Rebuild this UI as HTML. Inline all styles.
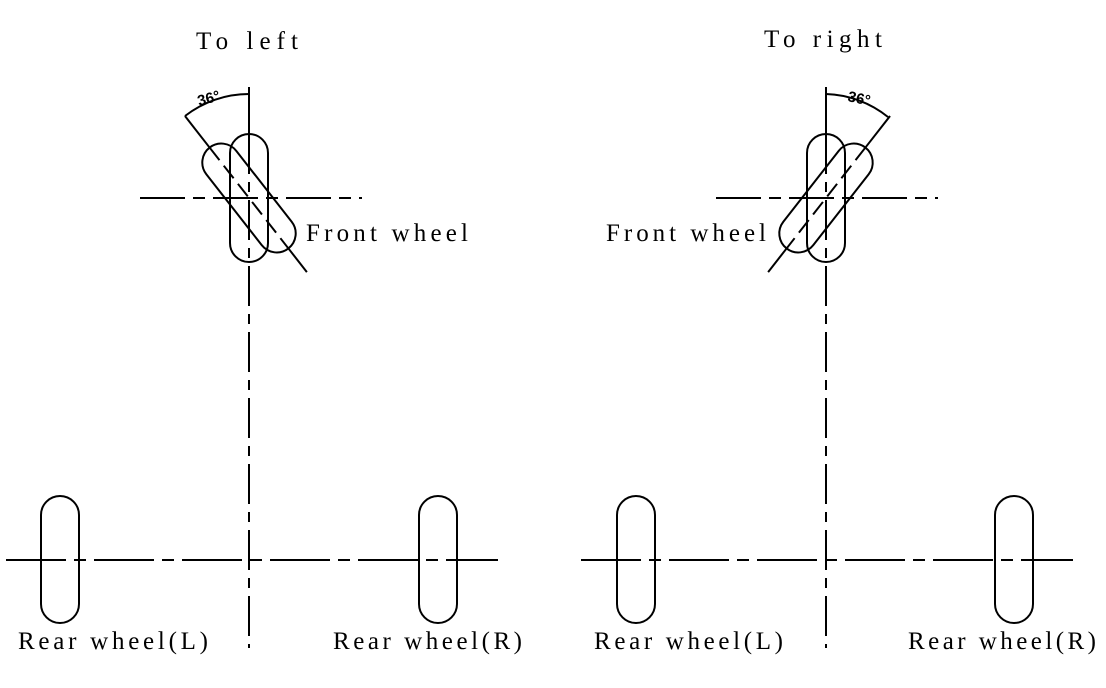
<!DOCTYPE html>
<html><head><style>
html,body{margin:0;padding:0;background:#fff;}
svg{display:block;}
text{font-family:"Liberation Serif","Noto Serif CJK SC",serif;font-size:25px;fill:#000;}
</style></head><body>
<svg width="1106" height="688" viewBox="0 0 1106 688" xmlns="http://www.w3.org/2000/svg">
<g fill="none" stroke="#000" stroke-width="2">
<!-- LEFT DIAGRAM -->
<line x1="249" y1="87" x2="249" y2="134"/>
<line x1="249" y1="134" x2="249" y2="648" stroke-dasharray="40,8,10,8"/>
<line x1="140" y1="198" x2="362" y2="198" stroke-dasharray="45,8,12,8"/>
<line x1="6" y1="560" x2="498" y2="560" stroke-dasharray="60,8,12,8"/>
<rect x="230" y="134" width="38" height="128" rx="19"/>
<g transform="rotate(-38 249 198)">
<rect x="230" y="134" width="38" height="128" rx="19"/>
<line x1="249" y1="94" x2="249" y2="134"/>
<line x1="249" y1="134" x2="249" y2="262" stroke-dasharray="16,7"/>
<line x1="249" y1="262" x2="249" y2="292"/>
</g>
<path d="M249 94 A104 104 0 0 0 185 116"/>
<rect x="41" y="496" width="38" height="127" rx="19"/>
<rect x="419" y="496" width="38" height="127" rx="19"/>
<!-- RIGHT DIAGRAM -->
<line x1="826" y1="87" x2="826" y2="134"/>
<line x1="826" y1="134" x2="826" y2="648" stroke-dasharray="40,8,10,8"/>
<line x1="716" y1="198" x2="938" y2="198" stroke-dasharray="45,8,12,8"/>
<line x1="581" y1="560" x2="1073" y2="560" stroke-dasharray="60,8,12,8"/>
<rect x="807" y="134" width="38" height="128" rx="19"/>
<g transform="rotate(38 826 198)">
<rect x="807" y="134" width="38" height="128" rx="19"/>
<line x1="826" y1="94" x2="826" y2="134"/>
<line x1="826" y1="134" x2="826" y2="262" stroke-dasharray="16,7"/>
<line x1="826" y1="262" x2="826" y2="292"/>
</g>
<path d="M826 94 A104 104 0 0 1 888 117"/>
<rect x="617" y="496" width="38" height="127" rx="19"/>
<rect x="995" y="496" width="38" height="127" rx="19"/>
</g>
<text x="196" y="49" textLength="102">To left</text>
<text x="764" y="47" textLength="118">To right</text>
<text x="306" y="241" textLength="162">Front wheel</text>
<text x="606" y="241" textLength="160">Front wheel</text>
<text x="18" y="649" textLength="190">Rear wheel(L)</text>
<text x="333" y="649" textLength="189">Rear wheel(R)</text>
<text x="594" y="649" textLength="189">Rear wheel(L)</text>
<text x="908" y="649" textLength="188">Rear wheel(R)</text>
<text x="199" y="106" style="font-size:15px;font-weight:bold;font-family:'Liberation Sans',sans-serif" transform="rotate(-15 199 106)">36°</text>
<text x="847" y="101" style="font-size:15px;font-weight:bold;font-family:'Liberation Sans',sans-serif" transform="rotate(12 847 101)">36°</text>
</svg>
</body></html>
